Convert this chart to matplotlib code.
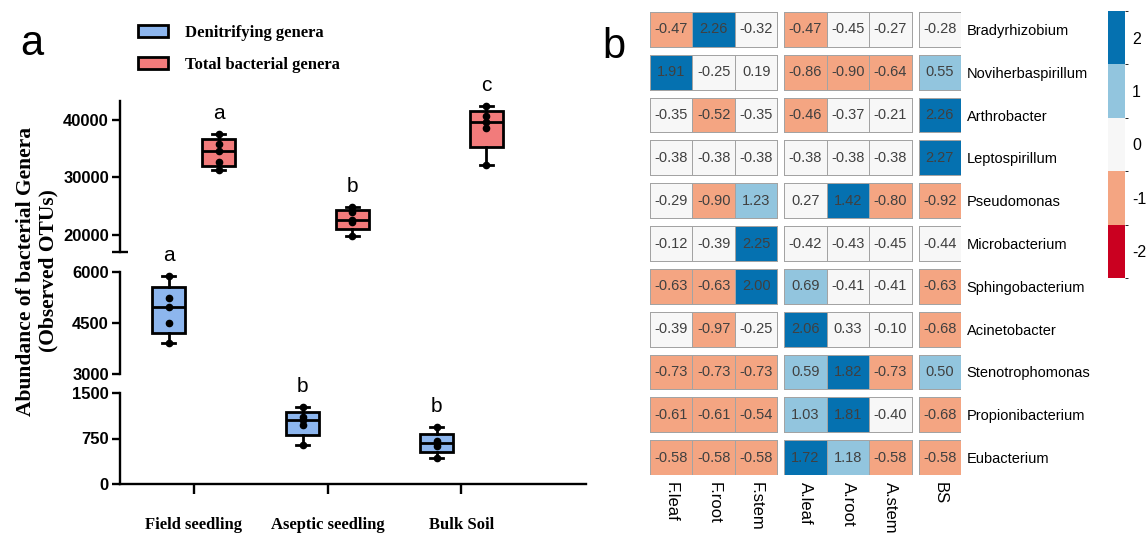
import numpy as np
import matplotlib
matplotlib.use("Agg")
import matplotlib.pyplot as plt
from matplotlib.colors import ListedColormap, BoundaryNorm
from matplotlib.patches import Patch
import matplotlib.cm as cm

plt.rcParams["font.family"] = ["Liberation Sans", "DejaVu Sans"]

# panel a: observed OTUs, five samples per group
groups = ["Field seedling", "Aseptic seedling", "Bulk Soil"]
denit_otus = [
    [3920, 4500, 4960, 5240, 5870],
    [643, 973, 1055, 1110, 1274],
    [423, 621, 681, 714, 934],
]
total_otus = [
    [31280, 32660, 34670, 35780, 37500],
    [19830, 22150, 22490, 23880, 24820],
    [32170, 38550, 39710, 40690, 42430],
]
denit_letters = ["a", "b", "b"]
total_letters = ["a", "b", "c"]

# panel b: z-scores of genera
genera = ["Bradyrhizobium", "Noviherbaspirillum", "Arthrobacter", "Leptospirillum",
          "Pseudomonas", "Microbacterium", "Sphingobacterium", "Acinetobacter",
          "Stenotrophomonas", "Propionibacterium", "Eubacterium"]
samples = ["F.leaf", "F.root", "F.stem", "A.leaf", "A.root", "A.stem", "BS"]
sample_groups = [[0, 1, 2], [3, 4, 5], [6]]
zscores = np.array([
    [-0.47, 2.26, -0.32, -0.47, -0.45, -0.27, -0.28],
    [1.91, -0.25, 0.19, -0.86, -0.90, -0.64, 0.55],
    [-0.35, -0.52, -0.35, -0.46, -0.37, -0.21, 2.26],
    [-0.38, -0.38, -0.38, -0.38, -0.38, -0.38, 2.27],
    [-0.29, -0.90, 1.23, 0.27, 1.42, -0.80, -0.92],
    [-0.12, -0.39, 2.25, -0.42, -0.43, -0.45, -0.44],
    [-0.63, -0.63, 2.00, 0.69, -0.41, -0.41, -0.63],
    [-0.39, -0.97, -0.25, 2.06, 0.33, -0.10, -0.68],
    [-0.73, -0.73, -0.73, 0.59, 1.82, -0.73, 0.50],
    [-0.61, -0.61, -0.54, 1.03, 1.81, -0.40, -0.68],
    [-0.58, -0.58, -0.58, 1.72, 1.18, -0.58, -0.58],
])
class_breaks = [-3, -1.5, -0.455, 0.45, 1.3, 3]
colorbar_ticks = [-2, -1, 0, 1, 2]

BLUE = "#8db6ee"
RED = "#f27b7b"
SERIF = "Liberation Serif"
W, H = 1148, 535


def box_stats(values):
    v = np.sort(np.asarray(values, float))
    q1, med, q3 = np.percentile(v, [25, 50, 75], method="weibull")
    return dict(whislo=v[0], q1=q1, med=med, q3=q3, whishi=v[-1], fliers=[])


def px_axes(fig, x0, y0, x1, y1):
    return fig.add_axes([x0 / W, 1 - y1 / H, (x1 - x0) / W, (y1 - y0) / H])


fig = plt.figure(figsize=(W / 100, H / 100), dpi=100)

# ---- panel a: broken y axis made of three stacked axes
ax_top = px_axes(fig, 120, 101, 586, 252)
ax_mid = px_axes(fig, 120, 272, 586, 374)
ax_bot = px_axes(fig, 120, 393, 586, 484)
axes = [ax_top, ax_mid, ax_bot]
ax_top.set_ylim(17000, 43300)
ax_mid.set_ylim(3000, 6000)
ax_bot.set_ylim(0, 1500)
ax_top.set_yticks([20000, 30000, 40000])
ax_mid.set_yticks([3000, 4500, 6000])
ax_bot.set_yticks([0, 750, 1500])

pos = np.arange(1, len(groups) + 1)
offset = 0.186
lw = 2
for ax in axes:
    ax.set_xlim(0.45, 3.93)
    for data, shift, color in [(denit_otus, -offset, BLUE), (total_otus, offset, RED)]:
        ax.bxp([box_stats(d) for d in data], positions=pos + shift, widths=0.25,
               capwidths=0.1, patch_artist=True, showfliers=False,
               boxprops=dict(facecolor=color, edgecolor="black", linewidth=lw),
               medianprops=dict(color="black", linewidth=lw),
               whiskerprops=dict(color="black", linewidth=lw),
               capprops=dict(color="black", linewidth=lw))
        for p, d in zip(pos + shift, data):
            ax.plot(np.full(len(d), p), d, "o", color="black", ms=4.5, zorder=5)
    for s in ["top", "right", "bottom"]:
        ax.spines[s].set_visible(False)
    ax.spines["left"].set_linewidth(1.7)
    ax.tick_params(axis="y", width=1.7, length=6, pad=2)
    ax.set_yticklabels([f"{t:g}" for t in ax.get_yticks()], fontsize=12, fontweight="bold")
    ax.set_xticks([])

# end cap at the lower end of the top segment
ax_top.set_yticks([17000], minor=True)
ax_top.tick_params(axis="y", which="minor", direction="inout", length=11, width=1.7)

ax_bot.spines["bottom"].set_visible(True)
ax_bot.spines["bottom"].set_linewidth(1.7)
ax_bot.set_xticks(pos)
ax_bot.set_xticklabels(groups, family=SERIF, fontweight="bold", fontsize=12)
ax_bot.tick_params(axis="x", width=1.7, length=7, pad=17)

# significance letters above each whisker
for data, letters, shift in [(denit_otus, denit_letters, -offset), (total_otus, total_letters, offset)]:
    for p, d, letter in zip(pos + shift, data, letters):
        top = max(d)
        ax = next(a for a in axes if a.get_ylim()[0] <= top <= a.get_ylim()[1])
        ax.annotate(letter, xy=(p, top), xytext=(0, 8), textcoords="offset points",
                    ha="center", va="bottom", fontsize=15, annotation_clip=False)

fig.text(37 / W, 1 - 271 / H, "Abundance of bacterial Genera\n(Observed OTUs)",
         rotation=90, ha="center", va="center", family=SERIF, fontweight="bold",
         fontsize=15.5, linespacing=1.15)

handles = [Patch(facecolor=BLUE, edgecolor="black", linewidth=2, label="Denitrifying genera"),
           Patch(facecolor=RED, edgecolor="black", linewidth=2, label="Total bacterial genera")]
fig.legend(handles=handles, loc="upper left", bbox_to_anchor=(138 / W, 1 - 25 / H),
           frameon=False, prop=dict(family=SERIF, weight="bold", size=12),
           handlelength=1.8, handleheight=0.7, handletextpad=1.0, labelspacing=0.95,
           borderpad=0, borderaxespad=0)

fig.text(32 / W, 1 - 44 / H, "a", fontsize=30, ha="center", va="center")
fig.text(614 / W, 1 - 47 / H, "b", fontsize=30, ha="center", va="center")

# ---- panel b: heatmap split into sample groups and rows
colors = ["#ca0020", "#f4a582", "#f7f7f7", "#92c5de", "#0571b0"]
cmap = ListedColormap(colors)
norm = BoundaryNorm(class_breaks, cmap.N)

hax = px_axes(fig, 650, 12, 961, 475)
col_gap = 0.16
row_gap = 0.19
centers = []
for g, cols in enumerate(sample_groups):
    x0 = cols[0] + g * col_gap
    xedges = x0 + np.arange(len(cols) + 1)
    centers.extend(xedges[:-1] + 0.5)
    for i in range(len(genera)):
        vals = zscores[i, cols][None, :]
        hax.pcolormesh(xedges, [i + row_gap / 2, i + 1 - row_gap / 2], vals,
                       cmap=cmap, norm=norm, edgecolors="#a3a3a3", linewidth=0.7)
        for xc, v in zip(xedges[:-1] + 0.5, vals[0]):
            hax.text(xc, i + 0.5, f"{v:.2f}", ha="center", va="center",
                     fontsize=10.5, color="#404040")
hax.set_xlim(0, len(samples) + 2 * col_gap)
hax.set_ylim(len(genera) - row_gap / 2, row_gap / 2)
for s in hax.spines.values():
    s.set_visible(False)
hax.set_xticks(centers)
hax.set_xticklabels(samples, rotation=270, fontsize=12, va="top")
hax.set_yticks(np.arange(len(genera)) + 0.5)
hax.set_yticklabels(genera, fontsize=10.5)
hax.yaxis.tick_right()
hax.tick_params(length=0)
hax.tick_params(axis="x", pad=5)
hax.tick_params(axis="y", pad=4)

cax = px_axes(fig, 1108, 11, 1125, 278)
cb_norm = BoundaryNorm(np.arange(-2.5, 3, 1), cmap.N)
cb = fig.colorbar(cm.ScalarMappable(norm=cb_norm, cmap=cmap), cax=cax, ticks=colorbar_ticks)
cb.outline.set_visible(False)
cb.ax.tick_params(length=0, pad=5, labelsize=11.5)
cb.ax.set_yticklabels([f"{t:g}" for t in colorbar_ticks])

fig.savefig("out.png", dpi=100)
